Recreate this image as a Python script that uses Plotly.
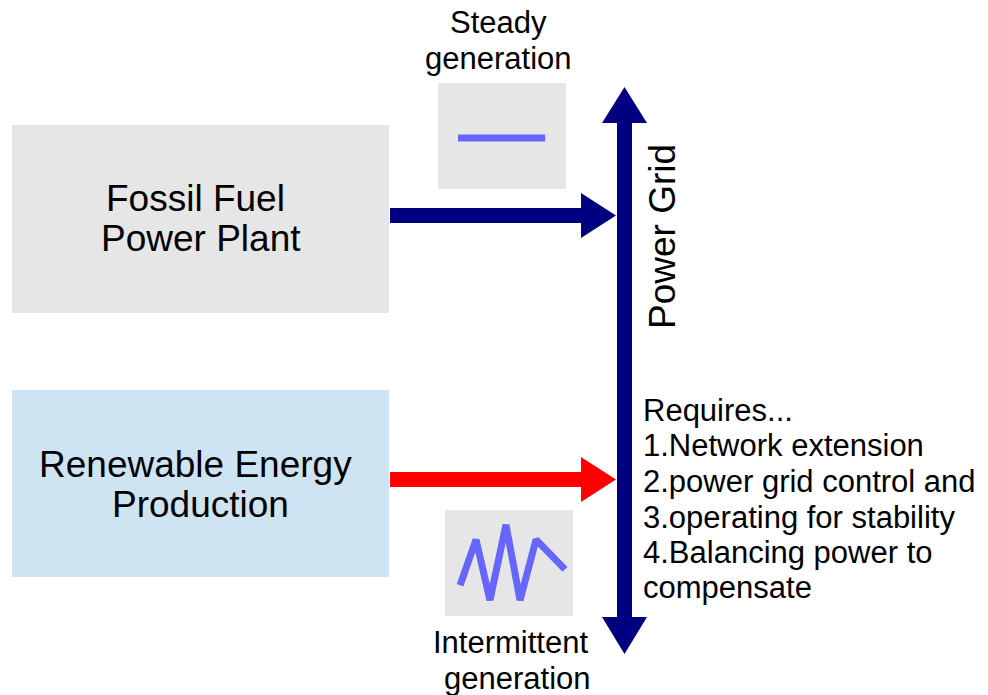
import plotly.graph_objects as go

# ---- data ----
source_labels = [["Fossil Fuel", "Power Plant"], ["Renewable Energy", "Production"]]
steady_label = ["Steady", "generation"]
intermittent_label = ["Intermittent", "generation"]
grid_label = "Power Grid"
requirements = ["Requires...", "1.Network extension", "2.power grid control and",
                "3.operating for stability", "4.Balancing power to", "compensate"]

steady_t = [1.25, 6.7]
steady_y = [4.8, 4.8]
intermittent_t = [0.94, 1.94, 2.81, 3.81, 4.69, 5.69, 7.5]
intermittent_y = [2.9, 7.2, 1.5, 8.6, 1.5, 7.2, 4.4]

W, H = 988, 695
FONT = "Liberation Sans, Arial, sans-serif"
NAVY = "#000080"
WAVE = "#6666ff"

fig = go.Figure()

def dom_x(a, b):
    return [a / W, b / W]

def dom_y(top, bottom):
    return [1 - bottom / H, 1 - top / H]

# steady inset (box 438..566 x 83..189)
fig.add_trace(go.Scatter(x=steady_t, y=steady_y, mode="lines", xaxis="x2", yaxis="y2",
                         line=dict(color=WAVE, width=7), hoverinfo="skip", showlegend=False))
# intermittent inset (box 445..573 x 510..616)
fig.add_trace(go.Scatter(x=intermittent_t, y=intermittent_y, mode="lines", xaxis="x3", yaxis="y3",
                         line=dict(color=WAVE, width=7), hoverinfo="skip", showlegend=False))

hidden = dict(visible=False, showgrid=False, zeroline=False, fixedrange=True)
fig.update_layout(
    width=W, height=H, margin=dict(l=0, r=0, t=0, b=0),
    paper_bgcolor="white", plot_bgcolor="rgba(0,0,0,0)",
    showlegend=False,
    xaxis=dict(range=[0, W], domain=[0, 1], **hidden),
    yaxis=dict(range=[H, 0], domain=[0, 1], **hidden),
    xaxis2=dict(range=[0, 8], domain=dom_x(438, 566), anchor="y2", **hidden),
    yaxis2=dict(range=[0, 10], domain=dom_y(83, 189), anchor="x2", **hidden),
    xaxis3=dict(range=[0, 8], domain=dom_x(445, 573), anchor="y3", **hidden),
    yaxis3=dict(range=[0, 10], domain=dom_y(510, 616), anchor="x3", **hidden),
)

shapes = []
def rect(x0, y0, x1, y1, color):
    shapes.append(dict(type="rect", xref="x", yref="y", x0=x0, y0=y0, x1=x1, y1=y1,
                       fillcolor=color, line=dict(width=0), layer="below"))

rect(12, 125, 389, 313, "#e6e6e6")
rect(12, 390, 389, 577, "#cfe4f2")
rect(438, 83, 566, 189, "#e6e6e6")
rect(445, 510, 573, 616, "#e6e6e6")

def hpath(y, color, x0=390, xh=581, xt=616, half_shaft=7.5, half_head=22.5):
    p = (f"M{x0},{y-half_shaft} L{xh},{y-half_shaft} L{xh},{y-half_head} L{xt},{y} "
         f"L{xh},{y+half_head} L{xh},{y+half_shaft} L{x0},{y+half_shaft} Z")
    shapes.append(dict(type="path", xref="x", yref="y", path=p, fillcolor=color,
                       line=dict(width=0), layer="above"))

hpath(215.5, NAVY)
hpath(479.5, "#ff0000")

cx, hs, hh = 624.5, 7.5, 22.5
vp = (f"M{cx},87 L{cx+hh},123 L{cx+hs},123 L{cx+hs},617 L{cx+hh},617 L{cx},654 "
      f"L{cx-hh},617 L{cx-hs},617 L{cx-hs},123 L{cx-hh},123 Z")
shapes.append(dict(type="path", xref="x", yref="y", path=vp, fillcolor=NAVY,
                   line=dict(width=0), layer="above"))
fig.update_layout(shapes=shapes)

ann = []
def text(x, y, s, size, xanchor="center", angle=0):
    ann.append(dict(x=x, y=y, xref="x", yref="y", text=s, showarrow=False,
                    xanchor=xanchor, yanchor="middle", textangle=angle,
                    font=dict(family=FONT, size=size, color="black")))

BIG, SMALL = 37, 31
text(195, 198, source_labels[0][0], BIG)
text(201, 238, source_labels[0][1], BIG)
text(195, 464, source_labels[1][0], BIG)
text(200, 504, source_labels[1][1], BIG)
text(498, 22, steady_label[0], SMALL)
text(498, 58, steady_label[1], SMALL)
text(510, 642, intermittent_label[0], SMALL)
text(517, 678, intermittent_label[1], SMALL)
text(662, 237, grid_label, BIG, angle=-90)
req_y = [410, 445, 481, 517, 552, 587]
for yy, s in zip(req_y, requirements):
    text(641, yy, s, SMALL, xanchor="left")
fig.update_layout(annotations=ann)

fig.write_html("out.html", config={"displayModeBar": False},
               post_script="document.body.style.margin='0';document.body.style.overflow='hidden';")
